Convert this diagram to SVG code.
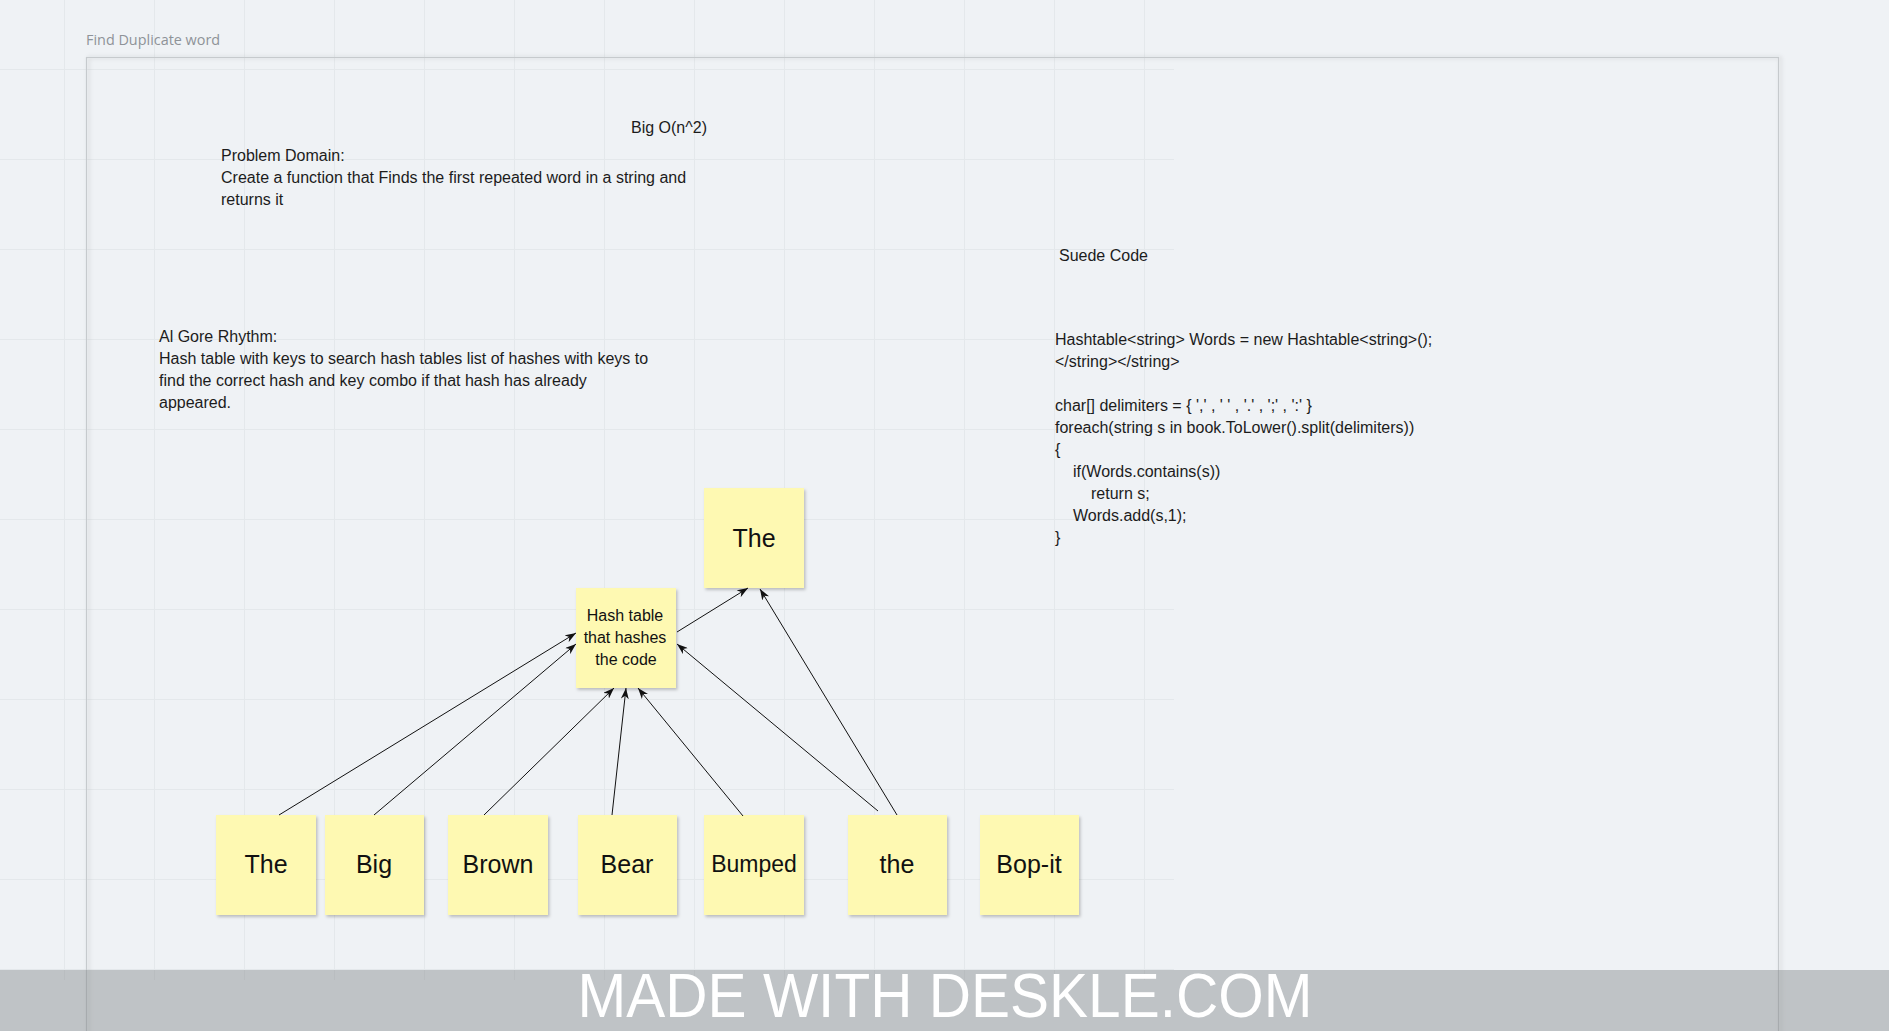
<svg xmlns="http://www.w3.org/2000/svg" width="1889" height="1031" viewBox="0 0 1889 1031">
<style>
.bg{fill:#eff2f5}
.grid line{stroke:#e4e8eb;stroke-width:1}
.title{font-family:"Open Sans","Noto Sans",sans-serif;font-size:14.4px;fill:#8e9398}
.txt{font-family:"Liberation Sans",Arial,sans-serif;font-size:16px;fill:#1c1c1c}
.note rect{fill:#fef9b2}
.note text{font-family:"Liberation Sans",Arial,sans-serif;fill:#111;text-anchor:middle}
.big{font-size:25px}
.small{font-size:16px}
.conn line{stroke:#111;stroke-width:1;fill:none}
.wm{font-family:"Liberation Sans",Arial,sans-serif;font-size:63px;fill:#ffffff;text-anchor:middle}
</style>
<defs>
<filter id="sh" x="-10%" y="-10%" width="130%" height="130%">
<feDropShadow dx="1.5" dy="2" stdDeviation="1.5" flood-color="#000" flood-opacity="0.22"/>
</filter>
<filter id="fsh" x="-5%" y="-5%" width="110%" height="110%">
<feDropShadow dx="2" dy="0" stdDeviation="2" flood-color="#000" flood-opacity="0.18"/>
</filter>
<marker id="arr" viewBox="0 0 11 8" refX="11" refY="4" markerWidth="11" markerHeight="8" markerUnits="userSpaceOnUse" orient="auto">
<path d="M0,0 L11,4 L0,8 L3.2,4 z" fill="#111"/>
</marker>
</defs>
<rect class="bg" x="0" y="0" width="1889" height="1031"/>
<g class="grid">
<line x1="64.5" y1="0" x2="64.5" y2="980"/><line x1="154.5" y1="0" x2="154.5" y2="980"/><line x1="244.5" y1="0" x2="244.5" y2="980"/><line x1="334.5" y1="0" x2="334.5" y2="980"/><line x1="424.5" y1="0" x2="424.5" y2="980"/><line x1="514.5" y1="0" x2="514.5" y2="980"/><line x1="604.5" y1="0" x2="604.5" y2="980"/><line x1="694.5" y1="0" x2="694.5" y2="980"/><line x1="784.5" y1="0" x2="784.5" y2="980"/><line x1="874.5" y1="0" x2="874.5" y2="980"/><line x1="964.5" y1="0" x2="964.5" y2="980"/><line x1="1054.5" y1="0" x2="1054.5" y2="980"/><line x1="1144.5" y1="0" x2="1144.5" y2="980"/>
<line x1="0" y1="69.5" x2="1174" y2="69.5"/><line x1="0" y1="159.5" x2="1174" y2="159.5"/><line x1="0" y1="249.5" x2="1174" y2="249.5"/><line x1="0" y1="339.5" x2="1174" y2="339.5"/><line x1="0" y1="429.5" x2="1174" y2="429.5"/><line x1="0" y1="519.5" x2="1174" y2="519.5"/><line x1="0" y1="609.5" x2="1174" y2="609.5"/><line x1="0" y1="699.5" x2="1174" y2="699.5"/><line x1="0" y1="789.5" x2="1174" y2="789.5"/><line x1="0" y1="879.5" x2="1174" y2="879.5"/><line x1="0" y1="969.5" x2="1174" y2="969.5"/>
</g>
<g id="frame">
<text class="title" x="86" y="45">Find Duplicate word</text>
<rect x="86.5" y="57.5" width="1692" height="1000" fill="none" stroke="#c6cacd" stroke-width="1.2" filter="url(#fsh)"/>
</g>
<g id="bigo"><text class="txt" x="631" y="133">Big O(n^2)</text></g>
<g id="problem">
<text class="txt" x="221" y="161">Problem Domain:</text>
<text class="txt" x="221" y="183">Create a function that Finds the first repeated word in a string and</text>
<text class="txt" x="221" y="205">returns it</text>
</g>
<g id="suede"><text class="txt" x="1059" y="261">Suede Code</text></g>
<g id="algo">
<text class="txt" x="159" y="342">Al Gore Rhythm:</text>
<text class="txt" x="159" y="364">Hash table with keys to search hash tables list of hashes with keys to</text>
<text class="txt" x="159" y="386">find the correct hash and key combo if that hash has already</text>
<text class="txt" x="159" y="408">appeared.</text>
</g>
<g id="code">
<text class="txt" x="1055" y="345">Hashtable&lt;string&gt; Words = new Hashtable&lt;string&gt;();</text>
<text class="txt" x="1055" y="367">&lt;/string&gt;&lt;/string&gt;</text>
<text class="txt" x="1055" y="411">char[] delimiters = { ',' , ' ' , '.' , ';' , ':' }</text>
<text class="txt" x="1055" y="433">foreach(string s in book.ToLower().split(delimiters))</text>
<text class="txt" x="1055" y="455">{</text>
<text class="txt" x="1073" y="477">if(Words.contains(s))</text>
<text class="txt" x="1091" y="499">return s;</text>
<text class="txt" x="1073" y="521">Words.add(s,1);</text>
<text class="txt" x="1055" y="543">}</text>
</g>
<g id="n-top-the" class="note"><rect x="704" y="488" width="100" height="100" filter="url(#sh)"/><text class="big" x="754" y="547">The</text></g>
<g id="n-hash" class="note"><rect x="576" y="588" width="100" height="100" filter="url(#sh)"/>
<text class="small" x="625" y="621">Hash table</text><text class="small" x="625" y="643">that hashes</text><text class="small" x="626" y="665">the code</text></g>
<g id="n-the" class="note"><rect x="216" y="815" width="100" height="100" filter="url(#sh)"/><text class="big" x="266" y="873">The</text></g>
<g id="n-big" class="note"><rect x="325" y="815" width="99" height="100" filter="url(#sh)"/><text class="big" x="374" y="873">Big</text></g>
<g id="n-brown" class="note"><rect x="448" y="815" width="100" height="100" filter="url(#sh)"/><text class="big" x="498" y="873">Brown</text></g>
<g id="n-bear" class="note"><rect x="578" y="815" width="99" height="100" filter="url(#sh)"/><text class="big" x="627" y="873">Bear</text></g>
<g id="n-bumped" class="note"><rect x="704" y="815" width="100" height="100" filter="url(#sh)"/><text class="big" x="754" y="872" style="font-size:23px">Bumped</text></g>
<g id="n-the2" class="note"><rect x="848" y="815" width="99" height="100" filter="url(#sh)"/><text class="big" x="897" y="873">the</text></g>
<g id="n-bopit" class="note"><rect x="980" y="815" width="99" height="100" filter="url(#sh)"/><text class="big" x="1029" y="873">Bop-it</text></g>
<g id="connectors" class="conn">
<line x1="279" y1="815" x2="576" y2="633" marker-end="url(#arr)"/>
<line x1="374" y1="815" x2="576" y2="644" marker-end="url(#arr)"/>
<line x1="484" y1="815" x2="614" y2="688" marker-end="url(#arr)"/>
<line x1="612" y1="815" x2="626" y2="688" marker-end="url(#arr)"/>
<line x1="743" y1="816" x2="638" y2="688" marker-end="url(#arr)"/>
<line x1="878" y1="811" x2="677" y2="644" marker-end="url(#arr)"/>
<line x1="897" y1="815" x2="760" y2="589" marker-end="url(#arr)"/>
<line x1="677" y1="632" x2="748" y2="588" marker-end="url(#arr)"/>
</g>
<g id="watermark">
<rect x="0" y="970" width="1889" height="61" fill="rgb(120,124,127)" fill-opacity="0.4"/>
<text class="wm" x="945" y="1017" textLength="735" lengthAdjust="spacingAndGlyphs">MADE WITH DESKLE.COM</text>
</g>
</svg>
